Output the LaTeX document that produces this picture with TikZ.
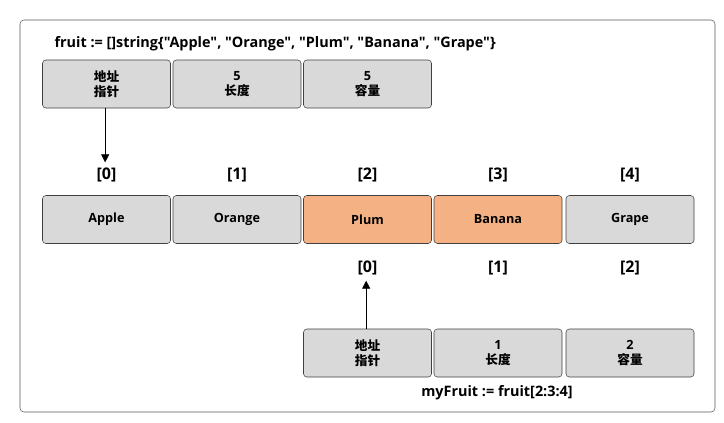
\documentclass[tikz,border=0pt]{standalone}
\usepackage{fontspec}
\setmainfont{Open Sans}
\newfontfamily\plainfont{Open Sans}
\newfontfamily\cjk{Noto Sans CJK SC}
\usetikzlibrary{arrows.meta,positioning}
\definecolor{cellgray}{HTML}{D9D9D9}
\definecolor{cellorange}{HTML}{F4B183}
\definecolor{edge}{HTML}{404040}
\definecolor{framegray}{HTML}{595959}
\tikzset{
  cell/.style={draw=edge,rounded corners=2.5pt,fill=cellgray,align=center,
    font=\bfseries\fontsize{9.5}{11}\selectfont,minimum width=96pt,minimum height=36pt,inner sep=1pt},
  hotcell/.style={cell,fill=cellorange},
  idx/.style={font=\bfseries\fontsize{12}{14}\selectfont,inner sep=1pt},
  caption/.style={font=\plainfont\bfseries\fontsize{10.8}{12}\selectfont,inner sep=1pt},
  ptr/.style={-{Triangle[length=6pt,width=6pt]},semithick,draw=black},
}
\begin{document}
\begin{tikzpicture}[x=0.75pt,y=-0.75pt]
  \useasboundingbox[fill=white] (0,0) rectangle (724,422);
  \draw[framegray,rounded corners=3pt] (20,20) rectangle (715,412);
  % original slice header
  \node[caption,anchor=west] (decl) at (53,44) {fruit := []string\{"Apple", "Orange", "Plum", "Banana", "Grape"\}};
  \node[cell] (hdrptr) at (106.5,84) {{\cjk 地址}\\{\cjk 指针}};
  \node[cell] (hdrlen) at (237,84) {5\\{\cjk 长度}};
  \node[cell] (hdrcap) at (367.5,84) {5\\{\cjk 容量}};
  % backing array
  \node[idx] (i0) at (106.5,175) {[0]};
  \node[idx] (i1) at (237,175) {[1]};
  \node[idx] (i2) at (367.5,175) {[2]};
  \node[idx] (i3) at (498,175) {[3]};
  \node[idx] (i4) at (630,175) {[4]};
  \node[cell] (apple) at (106.5,219.5) {Apple};
  \node[cell] (orange) at (237,219.5) {Orange};
  \node[hotcell] (plum) at (367.5,219.5) {Plum};
  \node[hotcell] (banana) at (498,219.5) {Banana};
  \node[cell] (grape) at (630,219.5) {Grape};
  % new slice
  \node[idx] (j0) at (367.5,268) {[0]};
  \node[idx] (j1) at (498,268) {[1]};
  \node[idx] (j2) at (630,268) {[2]};
  \node[cell] (subptr) at (367.5,353) {{\cjk 地址}\\{\cjk 指针}};
  \node[cell] (sublen) at (498,353) {1\\{\cjk 长度}};
  \node[cell] (subcap) at (630,353) {2\\{\cjk 容量}};
  \node[caption] (slice) at (497,393) {myFruit := fruit[2:3:4]};
  \draw[ptr] ([xshift=-1pt]hdrptr.south) -- ([xshift=-1pt,yshift=3pt]i0.north);
  \draw[ptr] ([xshift=-1pt]subptr.north) -- ([xshift=-1pt,yshift=-3pt]j0.south);
\end{tikzpicture}
\end{document}
